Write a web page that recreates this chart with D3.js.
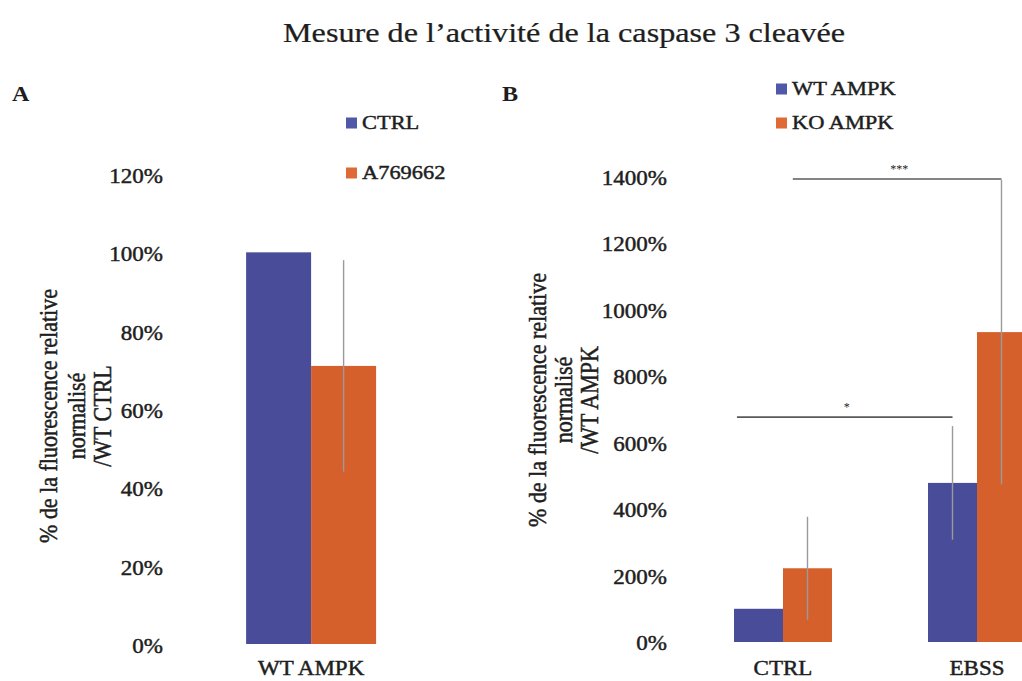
<!DOCTYPE html>
<html>
<head>
<meta charset="utf-8">
<script src="https://cdn.jsdelivr.net/npm/d3@7"></script>
<style>
  html, body { margin: 0; padding: 0; background: #fff; }
  svg text { font-family: "Liberation Serif", "Times New Roman", serif; fill: #1e1e1e; }
  svg text.heavy { stroke: #1e1e1e; stroke-width: 0.45px; }
</style>
</head>
<body>
<svg id="chart" width="1022" height="681"></svg>
<script>
// ---- Data ----
const titleText = "Mesure de l\u2019activité de la caspase 3 cleavée";

// Panel A
const catsA = ["WT AMPK"];
const seriesA = ["CTRL", "A769662"];
const valuesA = [[100, 71]];      // mean % per category, per series
const errorsA = [[null, 27]];     // error bar half-length (%)
const ticksA = [0, 20, 40, 60, 80, 100, 120];
const yTitleA = ["% de la fluorescence relative", "normalisé", "/WT CTRL"];

// Panel B
const catsB = ["CTRL", "EBSS"];
const seriesB = ["WT AMPK", "KO AMPK"];
const valuesB = [[100, 222], [479, 933]];
const errorsB = [[null, 155], [171, 458]];
const ticksB = [0, 200, 400, 600, 800, 1000, 1200, 1400];
const yTitleB = ["% de la fluorescence relative", "normalisé", "/WT AMPK"];
// significance brackets: from/to = [category, series, fraction of bar width]
const bracketsB = [
  { from: ["CTRL", "WT AMPK", 0.06], to: ["EBSS", "WT AMPK", 0.5], level: 677, label: "*" },
  { from: ["CTRL", "KO AMPK", 0.2], to: ["EBSS", "KO AMPK", 0.5], level: 1394, label: "***" }
];

const colors = ["#484c99", "#d6602c"];
const legendColors = ["#5058a8", "#e06a36"];
const SX = 1.15; // horizontal glyph stretch

const svg = d3.select("#chart");

function stretchedText(g, x, y, txt, size, anchor) {
  return g.append("text")
    .attr("transform", `translate(${x},${y}) scale(${SX},1)`)
    .attr("text-anchor", anchor || "start")
    .attr("font-size", size)
    .text(txt);
}

// Title
stretchedText(svg, 564, 42, titleText, 28, "middle")
  .style("stroke", "#1e1e1e").style("stroke-width", "0.25px");

function drawPanel(opt) {
  const g = svg.append("g");
  const y = d3.scaleLinear().domain(opt.domain).range(opt.yRange);
  const x0 = d3.scaleBand().domain(opt.cats).range(opt.xRange)
    .paddingInner(0.495).paddingOuter(0.2475);
  const x1 = d3.scaleBand().domain(opt.series).range([0, x0.bandwidth()]);

  // y axis (labels only)
  const ax = g.append("g")
    .attr("transform", `translate(${opt.axisX},0)`)
    .call(d3.axisLeft(y).tickValues(opt.ticks).tickSize(0).tickFormat(d => d + "%"));
  ax.select(".domain").remove();
  ax.attr("font-family", null).attr("font-size", null);
  ax.selectAll("text")
    .attr("class", "heavy")
    .attr("x", 0)
    .attr("dy", null)
    .attr("y", opt.labelDy)
    .attr("dominant-baseline", "central")
    .attr("transform", `scale(${SX},1)`)
    .attr("font-size", 20)
    .attr("fill", "#1e1e1e");

  // bars
  opt.cats.forEach((c, ci) => {
    opt.series.forEach((s, si) => {
      const v = opt.values[ci][si];
      g.append("rect")
        .attr("x", x0(c) + x1(s))
        .attr("y", y(v))
        .attr("width", x1.bandwidth())
        .attr("height", y(0) - y(v))
        .attr("fill", colors[si]);
    });
  });
  // error bars
  opt.cats.forEach((c, ci) => {
    opt.series.forEach((s, si) => {
      const e = opt.errors[ci][si];
      if (e == null) return;
      const v = opt.values[ci][si];
      const cx = x0(c) + x1(s) + x1.bandwidth() / 2;
      g.append("line")
        .attr("x1", cx).attr("x2", cx)
        .attr("y1", y(v - e)).attr("y2", y(v + e))
        .attr("stroke", "#9a9a9a").attr("stroke-width", 1.4);
    });
  });

  // category labels
  opt.cats.forEach(c => {
    stretchedText(g, x0(c) + x0.bandwidth() / 2 + (opt.catDx || 0), 675, c, 20, "middle")
      .attr("class", "heavy");
  });

  // y title
  opt.yTitle.forEach((t, i) => {
    g.append("text")
      .attr("class", "heavy")
      .attr("transform", `translate(${opt.titleX[i]},${opt.titleY}) scale(${SX},1) rotate(-90)`)
      .attr("text-anchor", "middle")
      .attr("dy", "0.35em")
      .attr("font-size", 22)
      .text(t);
  });

  // panel letter
  stretchedText(g, opt.letter[1], 101, opt.letter[0], 21, "start").attr("font-weight", "bold");

  // legend
  opt.series.forEach((s, si) => {
    const ly = opt.legend.y[si];
    g.append("rect")
      .attr("x", opt.legend.x).attr("y", ly - 5.5)
      .attr("width", 11).attr("height", 11)
      .attr("fill", legendColors[si]);
    stretchedText(g, opt.legend.x + 16, ly, s, 19.5, "start")
      .attr("class", "heavy")
      .attr("dominant-baseline", "central");
  });

  return { g, x0, x1, y };
}

const A = drawPanel({
  cats: catsA, series: seriesA, values: valuesA, errors: errorsA,
  domain: [0, 120], yRange: [644, 174], xRange: [182.4, 439.8],
  ticks: ticksA, axisX: 163, labelDy: 2,
  yTitle: yTitleA, titleX: [48, 76, 102], titleY: 416,
  letter: ["A", 12],
  legend: { x: 346, y: [123, 173] }
});

const B = drawPanel({
  cats: catsB, series: seriesB, values: valuesB, errors: errorsB,
  domain: [0, 1400], yRange: [642, 177], xRange: [686, 1074],
  ticks: ticksB, axisX: 667, labelDy: 1,
  yTitle: yTitleB, titleX: [537, 563, 589], titleY: 400,
  letter: ["B", 502],
  legend: { x: 776, y: [89, 123] }
});

// significance brackets on panel B
bracketsB.forEach(b => {
  const px = p => B.x0(p[0]) + B.x1(p[1]) + p[2] * B.x1.bandwidth();
  const xa = px(b.from), xb = px(b.to), yy = B.y(b.level);
  B.g.append("line")
    .attr("x1", xa).attr("x2", xb).attr("y1", yy).attr("y2", yy)
    .attr("stroke", "#5a5a5a").attr("stroke-width", 1.6);
  B.g.append("text")
    .attr("x", (xa + xb) / 2 + 2).attr("y", yy - 6)
    .attr("text-anchor", "middle")
    .attr("font-size", 12)
    .attr("fill", "#666")
    .text(b.label);
});
</script>
</body>
</html>
